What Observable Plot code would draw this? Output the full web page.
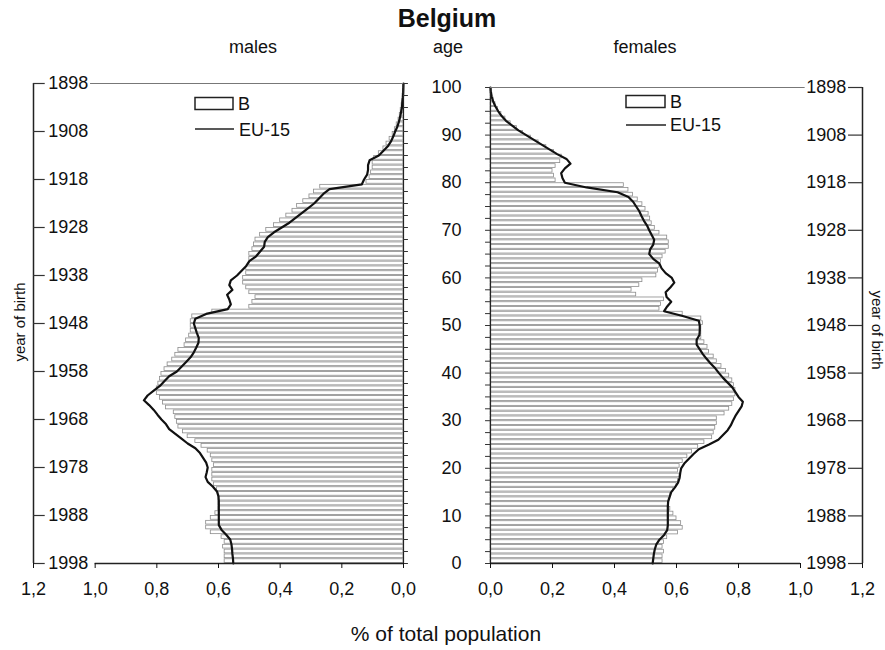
<!DOCTYPE html>
<html><head><meta charset="utf-8">
<script src="https://cdn.jsdelivr.net/npm/d3@7"></script>
<script src="https://cdn.jsdelivr.net/npm/@observablehq/plot@0.6"></script>
<style>
body{margin:0;background:#fff;}
#wrap{position:relative;width:885px;height:650px;font-family:"Liberation Sans",Arial,sans-serif;color:#111;overflow:hidden;}
#wrap > svg{position:absolute;left:0;top:0;}
.lbl{position:absolute;white-space:nowrap;transform:translate(-50%,-50%);line-height:1;}
</style></head><body>
<div id="wrap">
  <div class="lbl" style="left:447px;top:18px;font-size:25px;font-weight:bold">Belgium</div>
  <div class="lbl" style="left:253px;top:47px;font-size:18px">males</div>
  <div class="lbl" style="left:448px;top:47px;font-size:18px">age</div>
  <div class="lbl" style="left:645px;top:47px;font-size:18px">females</div>
  <div class="lbl" style="left:446px;top:633px;font-size:21px">% of total population</div>
  <div class="lbl" style="left:19px;top:322px;font-size:15px;transform:translate(-50%,-50%) rotate(-90deg)">year of birth</div>
  <div class="lbl" style="left:877px;top:330px;font-size:15px;transform:translate(-50%,-50%) rotate(90deg)">year of birth</div>
</div>
<script>
// ---- data ----
const ageLine = d3.range(0, 101);   // ages 0..100 for the EU-15 profile
const ageBars = d3.range(0, 100);   // single-year age bars 0..99
const ageLabelTicks = [0, 10, 20, 30, 40, 50, 60, 70, 80, 90, 100];
const ageMinorTicks = [0,2.5,5,7.5,10,12.5,15,17.5,20,22.5,25,27.5,30,32.5,35,37.5,40,42.5,45,47.5,50,52.5,55,57.5,60,62.5,65,67.5,70,72.5,75,77.5,80,82.5,85,87.5,90,92.5,95,97.5,100];
const pctTicks = [0, 0.2, 0.4, 0.6, 0.8, 1.0, 1.2];
const censusYear = 1998;

const maleB = [0.58,0.58,0.58,0.585,0.58,0.59,0.625,0.64,0.64,0.625,
  0.61,0.6,0.6,0.6,0.6,0.605,0.615,0.62,0.62,0.62,
  0.615,0.62,0.625,0.635,0.655,0.675,0.70,0.715,0.73,0.735,
  0.74,0.745,0.77,0.78,0.79,0.80,0.80,0.795,0.79,0.785,
  0.775,0.765,0.75,0.74,0.73,0.71,0.705,0.695,0.69,0.69,
  0.69,0.685,0.62,0.5,0.49,0.48,0.5,0.51,0.52,0.52,
  0.51,0.51,0.5,0.5,0.5,0.49,0.485,0.48,0.465,0.445,
  0.42,0.40,0.38,0.36,0.345,0.325,0.305,0.29,0.27,0.12,
  0.11,0.105,0.1,0.1,0.095,0.08,0.065,0.055,0.045,0.035,
  0.028,0.022,0.016,0.012,0.009,0.006,0.004,0.003,0.002,0.001];
const maleEU = [0.552,0.553,0.555,0.556,0.558,0.562,0.575,0.59,0.599,0.599,
  0.599,0.599,0.599,0.599,0.6,0.605,0.618,0.635,0.642,0.638,
  0.635,0.64,0.65,0.66,0.675,0.70,0.72,0.74,0.76,0.77,
  0.785,0.798,0.81,0.825,0.842,0.83,0.81,0.79,0.775,0.76,
  0.735,0.72,0.705,0.69,0.68,0.672,0.665,0.664,0.67,0.675,
  0.68,0.675,0.64,0.57,0.56,0.565,0.572,0.555,0.565,0.56,
  0.54,0.525,0.51,0.50,0.478,0.465,0.452,0.45,0.44,0.42,
  0.395,0.37,0.35,0.33,0.31,0.29,0.275,0.26,0.24,0.135,
  0.128,0.118,0.115,0.115,0.11,0.08,0.065,0.05,0.04,0.033,
  0.027,0.02,0.015,0.011,0.008,0.005,0.004,0.002,0.001,0.0005,0];
const femaleB = [0.555,0.555,0.56,0.555,0.56,0.57,0.605,0.62,0.615,0.6,
  0.59,0.58,0.575,0.575,0.58,0.59,0.6,0.605,0.61,0.605,
  0.61,0.62,0.635,0.65,0.67,0.69,0.715,0.72,0.725,0.73,
  0.73,0.755,0.77,0.78,0.785,0.79,0.79,0.785,0.78,0.77,
  0.76,0.745,0.73,0.72,0.705,0.7,0.69,0.68,0.68,0.68,
  0.685,0.68,0.62,0.545,0.55,0.56,0.47,0.455,0.48,0.49,
  0.535,0.54,0.545,0.55,0.555,0.565,0.575,0.575,0.57,0.545,
  0.53,0.52,0.515,0.51,0.5,0.49,0.475,0.46,0.445,0.43,
  0.21,0.205,0.2,0.21,0.225,0.23,0.205,0.18,0.155,0.13,
  0.105,0.085,0.065,0.048,0.035,0.024,0.016,0.01,0.006,0.003];
const femaleEU = [0.523,0.525,0.527,0.53,0.535,0.545,0.56,0.57,0.572,0.572,
  0.572,0.572,0.572,0.573,0.578,0.583,0.595,0.605,0.61,0.612,
  0.615,0.625,0.64,0.655,0.672,0.705,0.735,0.75,0.765,0.775,
  0.782,0.79,0.80,0.81,0.814,0.80,0.79,0.78,0.765,0.75,
  0.737,0.725,0.71,0.697,0.685,0.675,0.665,0.665,0.674,0.675,
  0.675,0.672,0.62,0.56,0.57,0.583,0.568,0.565,0.58,0.593,
  0.585,0.565,0.552,0.545,0.525,0.512,0.515,0.525,0.528,0.52,
  0.512,0.505,0.495,0.487,0.48,0.47,0.46,0.445,0.41,0.31,
  0.24,0.232,0.228,0.24,0.258,0.245,0.215,0.19,0.165,0.14,
  0.115,0.09,0.07,0.05,0.036,0.025,0.016,0.009,0.004,0.001,0];

// ---- tables built from the arrays ----
const maleBars = ageBars.map((a, i) => ({age: a, value: maleB[i]}));
const femaleBars = ageBars.map((a, i) => ({age: a, value: femaleB[i]}));
const maleLine = ageLine.map((a, i) => ({age: a, value: maleEU[i]}));
const femaleLine = ageLine.map((a, i) => ({age: a, value: femaleEU[i]}));

const fmt = d => d.toFixed(1).replace(".", ",");
const birthYear = a => String(censusYear - a);
const FONT = '"Liberation Sans", Arial, sans-serif';
const baseStyle = {background: "transparent", fontFamily: FONT, fontSize: "18px", color: "#111", overflow: "visible"};
const barOpts = {y1: "age", y2: d => d.age + 1, x1: 0, x2: "value", fill: "white", stroke: "#8c8c8c", strokeWidth: 0.8, insetTop: 0.55, insetBottom: 0.55};
const lineOpts = {x: "value", y: "age", stroke: "#111", strokeWidth: 2.2};

const left = Plot.plot({
  width: 885, height: 650,
  marginLeft: 33, marginRight: 482, marginTop: 83, marginBottom: 87,
  x: {domain: [0, 1.2], reverse: true, label: null},
  y: {domain: [0, 100], axis: null, label: null},
  style: baseStyle,
  marks: [
    Plot.rectX(maleBars, barOpts),
    Plot.line(maleLine, lineOpts),
    Plot.ruleX([1.2], {y1: 0, y2: 100, stroke: "#222", strokeWidth: 1.5}),
    Plot.ruleX([0], {y1: 0, y2: 100, stroke: "#222", strokeWidth: 1.2}),
    Plot.ruleY([100], {x1: 1.015, x2: 0, stroke: "#777", strokeWidth: 1}),
    Plot.ruleY([0], {x1: 1.0, x2: 0, stroke: "#222", strokeWidth: 1.5}),
    Plot.ruleY(ageMinorTicks, {x1: 0, x2: -0.016, stroke: "#333", strokeWidth: 1}),
    Plot.ruleY(ageLabelTicks, {x1: 1.2, x2: 1.162, stroke: "#333", strokeWidth: 1.2}),
    Plot.text(ageLabelTicks, {x: 1.152, y: d => d, text: birthYear, textAnchor: "start", fontSize: 18, fill: "#111"}),
    Plot.axisX({ticks: pctTicks, tickFormat: fmt, tickSize: 5, tickPadding: 14, fontSize: 18, anchor: "bottom", label: null})
  ]
});

const right = Plot.plot({
  width: 885, height: 650,
  marginLeft: 490, marginRight: 23, marginTop: 87, marginBottom: 87,
  x: {domain: [0, 1.2], label: null},
  y: {domain: [0, 100], label: null},
  style: baseStyle,
  marks: [
    Plot.rectX(femaleBars, barOpts),
    Plot.line(femaleLine, lineOpts),
    Plot.ruleX([0], {y1: 0, y2: 100, stroke: "#222", strokeWidth: 1.2}),
    Plot.ruleX([1.2], {y1: 0, y2: 100, stroke: "#222", strokeWidth: 1.5}),
    Plot.ruleY([100], {x1: 0, x2: 1.015, stroke: "#777", strokeWidth: 1}),
    Plot.ruleY([0], {x1: 0, x2: 1.0, stroke: "#222", strokeWidth: 1.5}),
    Plot.ruleY(ageMinorTicks, {x1: 0, x2: -0.016, stroke: "#333", strokeWidth: 1}),
    Plot.axisY({ticks: ageLabelTicks, anchor: "left", tickSize: 0, tickPadding: 29, fontSize: 18, label: null}),
    Plot.ruleY(ageLabelTicks, {x1: 1.2, x2: 1.155, stroke: "#333", strokeWidth: 1.2}),
    Plot.text(ageLabelTicks, {x: 1.148, y: d => d, text: birthYear, textAnchor: "end", fontSize: 18, fill: "#111"}),
    Plot.axisX({ticks: pctTicks, tickFormat: fmt, tickSize: 5, tickPadding: 14, fontSize: 18, anchor: "bottom", label: null})
  ]
});

const wrap = document.getElementById("wrap");
wrap.appendChild(left);
wrap.appendChild(right);

// legends
const ns = "http://www.w3.org/2000/svg";
const leg = document.createElementNS(ns, "svg");
leg.setAttribute("width", 885); leg.setAttribute("height", 650);
leg.setAttribute("font-family", FONT); leg.setAttribute("font-size", 18);
leg.innerHTML = `
  <rect x="195" y="97.5" width="38" height="12" fill="white" stroke="#222" stroke-width="1.5"/>
  <text x="238" y="110" fill="#111">B</text>
  <line x1="195" x2="234" y1="129" y2="129" stroke="#222" stroke-width="1.5"/>
  <text x="239" y="136" fill="#111">EU-15</text>
  <rect x="626" y="95.5" width="39" height="12" fill="white" stroke="#222" stroke-width="1.5"/>
  <text x="670" y="108" fill="#111">B</text>
  <line x1="626" x2="666" y1="125" y2="125" stroke="#222" stroke-width="1.5"/>
  <text x="670" y="131" fill="#111">EU-15</text>`;
wrap.appendChild(leg);
</script>
</body></html>
